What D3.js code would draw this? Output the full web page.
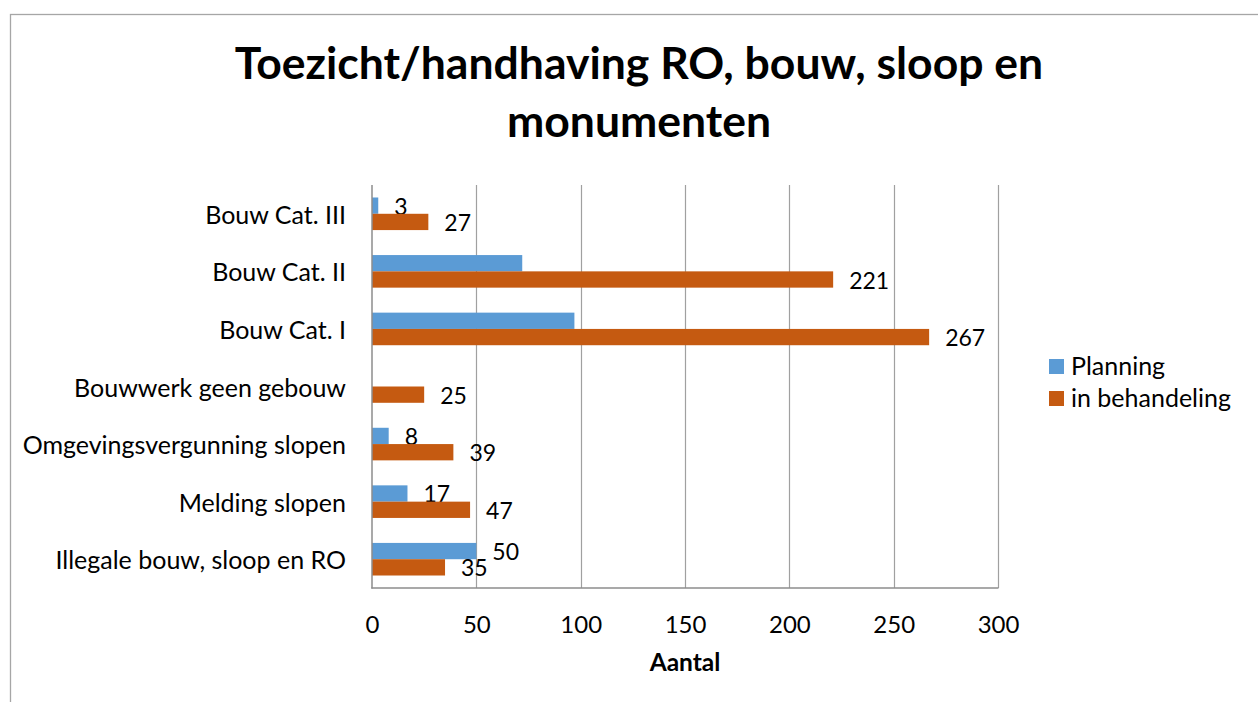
<!DOCTYPE html>
<html>
<head>
<meta charset="utf-8">
<script src="https://cdn.jsdelivr.net/npm/d3@7"></script>
<style>
  html, body { margin: 0; padding: 0; background: #fff; }
  svg { display: block; }
  text { font-family: Lato, "Open Sans", sans-serif; fill: #000; }
</style>
</head>
<body>
<svg id="chart" width="1258" height="702"></svg>
<script>
const titleLines = ["Toezicht/handhaving RO, bouw, sloop en", "monumenten"];
const categories = [
  "Bouw Cat. III",
  "Bouw Cat. II",
  "Bouw Cat. I",
  "Bouwwerk geen gebouw",
  "Omgevingsvergunning slopen",
  "Melding slopen",
  "Illegale bouw, sloop en RO"
];
const seriesNames = ["Planning", "in behandeling"];
const planning = [3, 72, 97, 0, 8, 17, 50];
const inBehandeling = [27, 221, 267, 25, 39, 47, 35];
const planningLabelShown = [true, false, false, false, true, true, true];
const behandelingLabelShown = [true, true, true, true, true, true, true];
const xTicks = [0, 50, 100, 150, 200, 250, 300];
const xTitle = "Aantal";
const colors = ["#5b9bd5", "#c55a11"];

const svg = d3.select("#chart");

// outer chart border
svg.append("rect")
  .attr("x", 10.5).attr("y", 14.5)
  .attr("width", 1300).attr("height", 800)
  .attr("fill", "none").attr("stroke", "#a6a6a6").attr("stroke-width", 1.3);

const plot = { left: 372, right: 998, top: 185, bottom: 588 };

const x = d3.scaleLinear().domain([0, 300]).range([plot.left, plot.right]);
const y = d3.scaleBand().domain(categories).range([plot.top, plot.bottom])
  .paddingInner(0.434).paddingOuter(0.217);
const ySub = d3.scaleBand().domain(seriesNames).range([0, y.bandwidth()]).padding(0);

// gridlines
svg.append("g").selectAll("line").data(xTicks.slice(1)).join("line")
  .attr("x1", d => Math.round(x(d)) + 0.5).attr("x2", d => Math.round(x(d)) + 0.5)
  .attr("y1", plot.top).attr("y2", plot.bottom)
  .attr("stroke", "#a0a0a0").attr("stroke-width", 1.2);

// bars
const rows = categories.map((c, i) => ({
  cat: c,
  vals: [
    { s: seriesNames[0], v: planning[i], show: planningLabelShown[i] },
    { s: seriesNames[1], v: inBehandeling[i], show: behandelingLabelShown[i] }
  ]
}));

const g = svg.append("g");
rows.forEach(r => {
  r.vals.forEach((d, j) => {
    if (d.v > 0) {
      g.append("rect")
        .attr("x", x(0))
        .attr("y", y(r.cat) + ySub(d.s))
        .attr("width", x(d.v) - x(0))
        .attr("height", ySub.bandwidth())
        .attr("fill", colors[j]);
    }
    if (d.show && d.v > 0) {
      g.append("text")
        .attr("x", x(d.v) + 16)
        .attr("y", y(r.cat) + ySub(d.s) + ySub.bandwidth() / 2)
        .attr("dominant-baseline", "central")
        .attr("font-size", 23)
        .text(d.v);
    }
  });
});

// axes lines
svg.append("line")
  .attr("x1", x(0)).attr("x2", x(0)).attr("y1", plot.top).attr("y2", plot.bottom + 0.5)
  .attr("stroke", "#8c8c8c").attr("stroke-width", 1.5);
svg.append("line")
  .attr("x1", x(0) - 0.7).attr("x2", plot.right + 0.5).attr("y1", plot.bottom).attr("y2", plot.bottom)
  .attr("stroke", "#8c8c8c").attr("stroke-width", 1.5);

// x axis labels
const xAxis = d3.axisBottom(x).tickValues(xTicks).tickSize(0).tickPadding(0);
const xg = svg.append("g").attr("transform", `translate(0,${plot.bottom})`).call(xAxis);
xg.select(".domain").remove();
xg.selectAll("text")
  .attr("font-size", 24).attr("font-family", "Lato, sans-serif").attr("fill", "#000")
  .attr("dy", null).attr("y", 35).attr("dominant-baseline", "central");

// y axis labels
const yAxis = d3.axisLeft(y).tickSize(0).tickPadding(26);
const yg = svg.append("g").attr("transform", `translate(${plot.left},0)`).call(yAxis);
yg.select(".domain").remove();
yg.selectAll("text")
  .attr("font-size", 25).attr("font-family", "Lato, sans-serif").attr("fill", "#000")
  .attr("dy", null).attr("dominant-baseline", "central");

// x axis title
svg.append("text")
  .attr("x", (plot.left + plot.right) / 2).attr("y", 671)
  .attr("text-anchor", "middle").attr("font-size", 24.5).attr("font-weight", "bold")
  .text(xTitle);

// title
svg.append("g").selectAll("text").data(titleLines).join("text")
  .attr("x", 639).attr("y", (d, i) => 79 + i * 58)
  .attr("text-anchor", "middle").attr("font-size", 44.5).attr("font-weight", "bold")
  .text(d => d);

// legend
const lg = svg.append("g");
seriesNames.forEach((s, i) => {
  lg.append("rect").attr("x", 1049).attr("y", 359 + i * 32).attr("width", 15).attr("height", 15)
    .attr("fill", colors[i]);
  lg.append("text").attr("x", 1071).attr("y", 375 + i * 32).attr("font-size", 25).text(s);
});
</script>
</body>
</html>
